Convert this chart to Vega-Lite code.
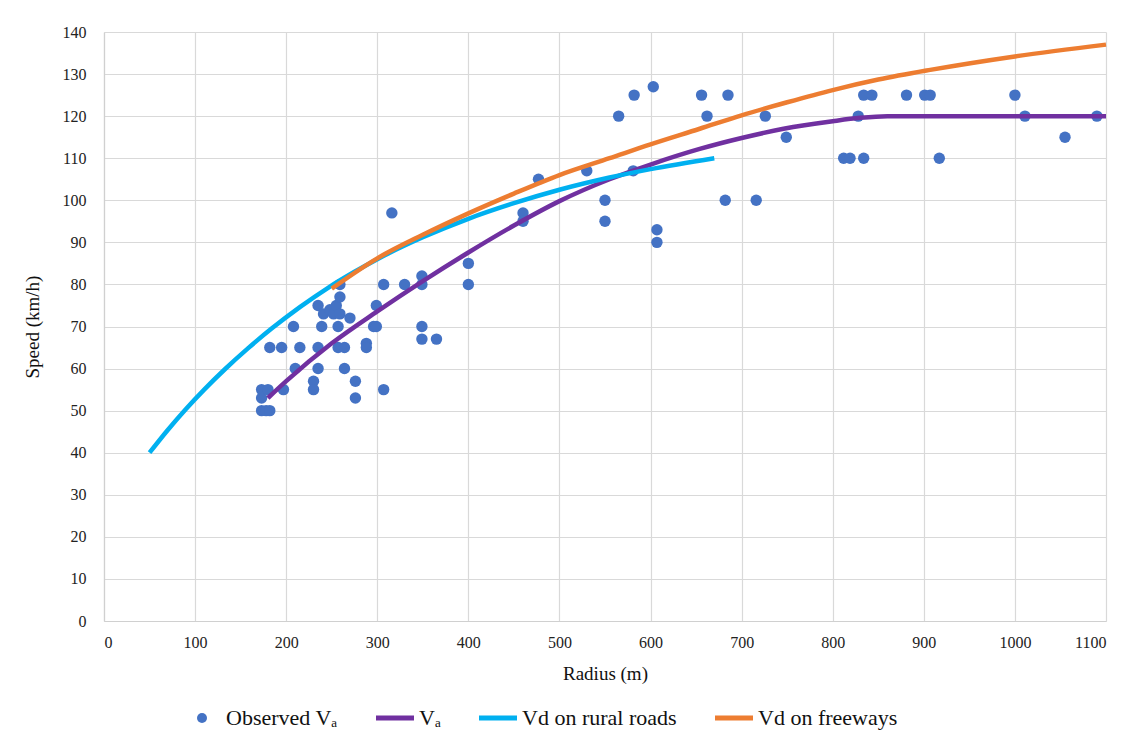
{
  "$schema": "https://vega.github.io/schema/vega-lite/v6.json",
  "width": 1002,
  "height": 589,
  "autosize": {"type": "none"},
  "padding": {"left": 104, "top": 32, "right": 31, "bottom": 124},
  "background": "white",
  "config": {
    "view": {"stroke": null},
    "font": "Liberation Serif",
    "axis": {
      "gridColor": "#d9d9d9",
      "gridWidth": 1.2,
      "domainColor": "#d0d0d0",
      "domainWidth": 1.2,
      "ticks": false,
      "labelFont": "Liberation Serif",
      "labelFontSize": 16,
      "labelColor": "#222222",
      "titleFont": "Liberation Serif",
      "titleFontWeight": "normal",
      "titleFontSize": 19,
      "titleColor": "#111111"
    }
  },
  "datasets": {
    "obs": [
      {"r": 173, "v": 50}, {"r": 178, "v": 50}, {"r": 182, "v": 50}, {"r": 173, "v": 53},
      {"r": 173, "v": 55}, {"r": 180, "v": 55}, {"r": 197, "v": 55}, {"r": 182, "v": 65},
      {"r": 195, "v": 65}, {"r": 208, "v": 70}, {"r": 210, "v": 60}, {"r": 215, "v": 65},
      {"r": 230, "v": 57}, {"r": 230, "v": 55}, {"r": 235, "v": 60}, {"r": 235, "v": 65},
      {"r": 235, "v": 75}, {"r": 239, "v": 70}, {"r": 241, "v": 73}, {"r": 248, "v": 74},
      {"r": 252, "v": 73}, {"r": 255, "v": 75}, {"r": 257, "v": 70}, {"r": 259, "v": 73},
      {"r": 259, "v": 77}, {"r": 259, "v": 80}, {"r": 257, "v": 65}, {"r": 264, "v": 65},
      {"r": 264, "v": 60}, {"r": 270, "v": 72}, {"r": 276, "v": 57}, {"r": 276, "v": 53},
      {"r": 288, "v": 66}, {"r": 288, "v": 65}, {"r": 296, "v": 70}, {"r": 299, "v": 70},
      {"r": 299, "v": 75}, {"r": 307, "v": 55}, {"r": 307, "v": 80}, {"r": 316, "v": 97},
      {"r": 330, "v": 80}, {"r": 349, "v": 82}, {"r": 349, "v": 80}, {"r": 349, "v": 70},
      {"r": 349, "v": 67}, {"r": 365, "v": 67}, {"r": 400, "v": 85}, {"r": 400, "v": 80},
      {"r": 460, "v": 97}, {"r": 460, "v": 95}, {"r": 477, "v": 105}, {"r": 530, "v": 107},
      {"r": 550, "v": 100}, {"r": 550, "v": 95}, {"r": 565, "v": 120}, {"r": 581, "v": 107},
      {"r": 582, "v": 125}, {"r": 603, "v": 127}, {"r": 607, "v": 93}, {"r": 607, "v": 90},
      {"r": 656, "v": 125}, {"r": 662, "v": 120}, {"r": 682, "v": 100}, {"r": 685, "v": 125},
      {"r": 716, "v": 100}, {"r": 726, "v": 120}, {"r": 749, "v": 115}, {"r": 812, "v": 110},
      {"r": 819, "v": 110}, {"r": 828, "v": 120}, {"r": 834, "v": 110}, {"r": 834, "v": 125},
      {"r": 843, "v": 125}, {"r": 881, "v": 125}, {"r": 901, "v": 125}, {"r": 907, "v": 125},
      {"r": 917, "v": 110}, {"r": 1000, "v": 125}, {"r": 1011, "v": 120}, {"r": 1055, "v": 115},
      {"r": 1090, "v": 120}
    ],
    "lines": [
      {"s": "Vₐ", "r": 180, "v": 53}, {"s": "Vₐ", "r": 200, "v": 57}, {"s": "Vₐ", "r": 250, "v": 66},
      {"s": "Vₐ", "r": 300, "v": 73.6}, {"s": "Vₐ", "r": 350, "v": 80.8}, {"s": "Vₐ", "r": 400, "v": 87.6},
      {"s": "Vₐ", "r": 450, "v": 94}, {"s": "Vₐ", "r": 500, "v": 99.8}, {"s": "Vₐ", "r": 555, "v": 105},
      {"s": "Vₐ", "r": 600, "v": 108.5}, {"s": "Vₐ", "r": 654, "v": 112.2}, {"s": "Vₐ", "r": 700, "v": 114.8},
      {"s": "Vₐ", "r": 746, "v": 117}, {"s": "Vₐ", "r": 800, "v": 118.8}, {"s": "Vₐ", "r": 830, "v": 119.6},
      {"s": "Vₐ", "r": 860, "v": 120}, {"s": "Vₐ", "r": 900, "v": 120}, {"s": "Vₐ", "r": 1000, "v": 120},
      {"s": "Vₐ", "r": 1100, "v": 120},
      {"s": "Vd on rural roads", "r": 50, "v": 40}, {"s": "Vd on rural roads", "r": 70, "v": 45.4},
      {"s": "Vd on rural roads", "r": 90, "v": 50.4}, {"s": "Vd on rural roads", "r": 110, "v": 55},
      {"s": "Vd on rural roads", "r": 133, "v": 59.9}, {"s": "Vd on rural roads", "r": 158, "v": 64.8},
      {"s": "Vd on rural roads", "r": 184, "v": 69.5}, {"s": "Vd on rural roads", "r": 215, "v": 74.6},
      {"s": "Vd on rural roads", "r": 246, "v": 79.2}, {"s": "Vd on rural roads", "r": 275, "v": 83},
      {"s": "Vd on rural roads", "r": 300, "v": 86}, {"s": "Vd on rural roads", "r": 350, "v": 91.2},
      {"s": "Vd on rural roads", "r": 400, "v": 95.6}, {"s": "Vd on rural roads", "r": 450, "v": 99.3},
      {"s": "Vd on rural roads", "r": 500, "v": 102.5}, {"s": "Vd on rural roads", "r": 555, "v": 105.4},
      {"s": "Vd on rural roads", "r": 600, "v": 107.4}, {"s": "Vd on rural roads", "r": 670, "v": 110},
      {"s": "Vd on freeways", "r": 250, "v": 79}, {"s": "Vd on freeways", "r": 300, "v": 86.2},
      {"s": "Vd on freeways", "r": 350, "v": 91.8}, {"s": "Vd on freeways", "r": 400, "v": 96.9},
      {"s": "Vd on freeways", "r": 450, "v": 101.6}, {"s": "Vd on freeways", "r": 500, "v": 106},
      {"s": "Vd on freeways", "r": 555, "v": 110}, {"s": "Vd on freeways", "r": 600, "v": 113.3},
      {"s": "Vd on freeways", "r": 654, "v": 117}, {"s": "Vd on freeways", "r": 700, "v": 120.2},
      {"s": "Vd on freeways", "r": 750, "v": 123.3}, {"s": "Vd on freeways", "r": 800, "v": 126.2},
      {"s": "Vd on freeways", "r": 850, "v": 128.7}, {"s": "Vd on freeways", "r": 907, "v": 131},
      {"s": "Vd on freeways", "r": 1000, "v": 134.2}, {"s": "Vd on freeways", "r": 1100, "v": 137}
    ]
  },
  "encoding": {
    "x": {
      "field": "r", "type": "quantitative",
      "scale": {"domain": [0, 1100], "nice": false},
      "axis": {"values": [0, 100, 200, 300, 400, 500, 600, 700, 800, 900, 1000, 1100], "format": "d", "title": "Radius (m)", "labelPadding": 13, "titlePadding": 14}
    },
    "y": {
      "field": "v", "type": "quantitative",
      "scale": {"domain": [0, 140], "nice": false},
      "axis": {"values": [0, 10, 20, 30, 40, 50, 60, 70, 80, 90, 100, 110, 120, 130, 140], "title": "Speed (km/h)", "labelPadding": 18, "titlePadding": 20}
    }
  },
  "layer": [
    {
      "data": {"name": "obs"},
      "transform": [{"calculate": "'Observed Vₐ'", "as": "s"}],
      "mark": {"type": "point", "filled": true, "opacity": 1, "size": 130},
      "encoding": {
        "color": {
          "field": "s", "type": "nominal",
          "scale": {"domain": ["Observed Vₐ", "Vₐ", "Vd on rural roads", "Vd on freeways"], "range": ["#4472C4", "#7030A0", "#00B0F0", "#ED7D31"]},
          "legend": {
            "title": null,
            "orient": "none",
            "legendX": 87,
            "legendY": 675,
            "padding": 0,
            "direction": "horizontal",
            "columns": 4,
            "columnPadding": 28,
            "labelFont": "Liberation Serif",
            "labelFontSize": 22,
            "labelColor": "#111111",
            "labelOffset": 13,
            "symbolSize": 1444,
            "symbolOpacity": 1,
            "encode": {
              "symbols": {
                "update": {
                  "shape": {"signal": "datum.value === 'Observed Vₐ' ? 'circle' : 'stroke'"},
                  "size": {"signal": "datum.value === 'Observed Vₐ' ? 100 : 1444"},
                  "fill": {"signal": "scale('color', datum.value)"},
                  "stroke": {"signal": "scale('color', datum.value)"},
                  "strokeWidth": {"signal": "datum.value === 'Observed Vₐ' ? 0 : 5"}
                }
              }
            }
          }
        }
      }
    },
    {
      "data": {"name": "lines"},
      "mark": {"type": "line", "strokeWidth": 4.5, "interpolate": "monotone"},
      "encoding": {
        "color": {"field": "s", "type": "nominal"}
      }
    }
  ]
}
